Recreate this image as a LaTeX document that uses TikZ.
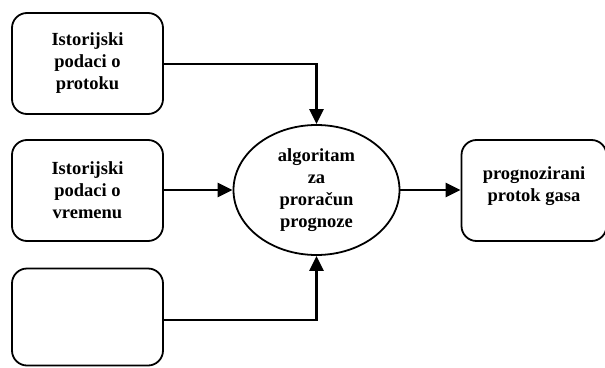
\documentclass[tikz,border=0pt]{standalone}
\usepackage{fontspec}
\setmainfont{Liberation Serif}
\usetikzlibrary{arrows.meta,shapes.geometric}
\begin{document}
\begin{tikzpicture}[x=1pt,y=-1pt,
  box/.style={draw,line width=1.8pt,rounded corners=15pt,minimum width=151pt,minimum height=101pt,
    align=center,font=\fontsize{18.5}{22}\selectfont\bfseries,inner sep=0pt},
  oval/.style={draw,line width=1.8pt,ellipse,minimum width=166pt,minimum height=130pt,
    align=center,font=\fontsize{18.5}{22}\selectfont\bfseries,inner sep=0pt},
  conn/.style={line width=2.4pt,-{Triangle[length=15pt,width=14pt]}}]
\useasboundingbox (0,0) rectangle (605,367);
\node[box] (b1) at (87.5,63.5) {Istorijski\\podaci o\\protoku};
\node[box] (b2) at (87.5,190.5) {Istorijski\\podaci o\\vremenu};
\node[box,minimum height=97pt] (b3) at (87.5,317) {};
\node[oval] (alg) at (316.5,190) {algoritam\\za\\proračun\\prognoze};
\node[box,minimum width=145pt] (out) at (534,190.5) {prognozirani\\protok gasa\\[-10pt]};
\draw[conn] (b1.east |- 0,64) -| (alg.north);
\draw[conn] (b2.east |- 0,190) -- (alg.west |- 0,190);
\draw[conn] (b3.east |- 0,320) -| (alg.south);
\draw[conn] (alg.east) -- (out.west |- alg.east);
\end{tikzpicture}
\end{document}
